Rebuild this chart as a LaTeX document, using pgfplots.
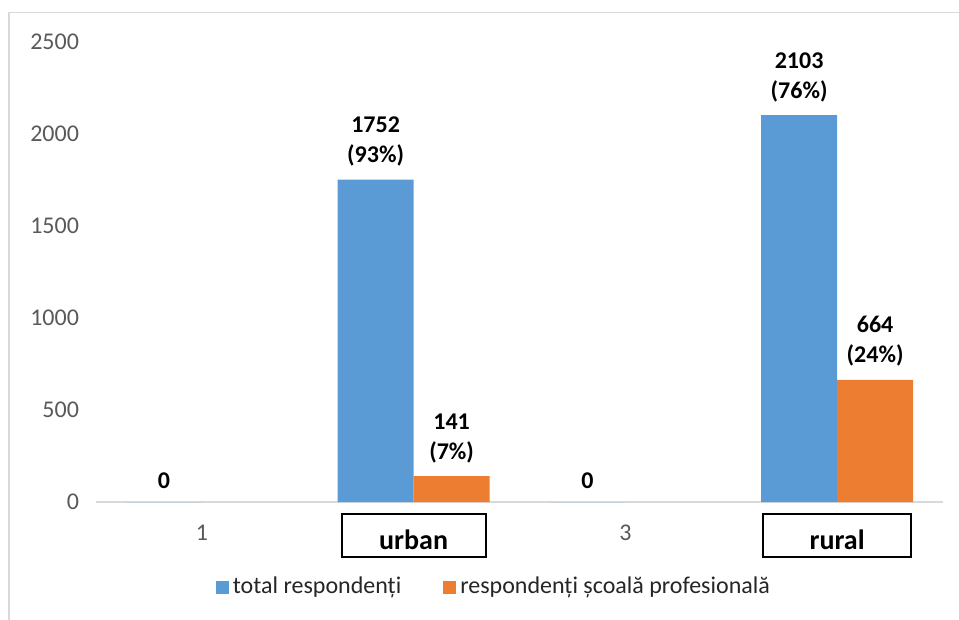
\documentclass[border=0pt]{standalone}
\usepackage{fontspec}
\setmainfont{Carlito}
\usepackage{pgfplots}
\pgfplotsset{compat=1.18}
\definecolor{obar}{HTML}{5B9BD5}
\definecolor{orbar}{HTML}{ED7D31}
\definecolor{txtgray}{HTML}{595959}
\definecolor{framegray}{HTML}{D9D9D9}

\begin{document}
\begin{tikzpicture}
\useasboundingbox (0pt,0pt) rectangle (479.5pt,-310pt);
% chart frame (only left and top edges visible in the crop)
\draw[framegray, line width=0.8pt] (4.5pt,-320pt) -- (4.5pt,-6.3pt) -- (490pt,-6.3pt);
\begin{axis}[
    at={(48pt,-251pt)}, anchor=south west,
    scale only axis,
    width=423.5pt, height=230pt,
    ybar=0pt,
    bar width=38pt,
    xmin=0.5, xmax=4.5,
    ymin=0, ymax=2500,
    xtick={1,2,3,4},
    xticklabels={1,,3,},
    ytick={0,500,1000,1500,2000,2500},
    major tick length=0pt,
    axis lines*=left,
    y axis line style={draw=none},
    x axis line style={draw=framegray, line width=0.8pt},
    /pgf/number format/assume math mode=true,
    /pgf/number format/1000 sep={},
    tick label style={font=\fontsize{12}{14}\selectfont, text=txtgray},
    xticklabel style={yshift=-8pt},
    yticklabel style={xshift=-5pt},
    clip=false,
    nodes near coords,
    point meta=explicit symbolic,
    nodes near coords style={font=\bfseries\fontsize{12}{15}\selectfont, align=center, text=black, inner sep=2pt, yshift=4.5pt},
    legend columns=2,
    legend style={draw=none, at={(0.471,-0.185)}, anchor=center,
        font=\fontsize{12}{14}\selectfont, text=black!85,
        /tikz/every even column/.append style={column sep=19pt}},
]
\addplot[fill=obar, draw=none,
    legend image code/.code={\fill[obar] (0pt,-3.3pt) rectangle (6.5pt,3.3pt);}]
    coordinates {
    (1,0) [0]
    (2,1752) [{1752\\(93\%)}]
    (3,0) [0]
    (4,2103) [{2103\\(76\%)}]
};
\addlegendentry{total respondenți}
\addplot[fill=orbar, draw=none,
    legend image code/.code={\fill[orbar] (0pt,-3.3pt) rectangle (6.5pt,3.3pt);}]
    coordinates {
    (2,141) [{141\\(7\%)}]
    (4,664) [{664\\(24\%)}]
};
\addlegendentry{respondenți școală profesională}
% boxed category labels
\node[draw=black, line width=1pt, minimum width=72pt, minimum height=21.5pt, anchor=north, inner sep=0pt]
    at ([yshift=-5.5pt]axis cs:2,0) {};
\node[draw=black, line width=1pt, minimum width=74pt, minimum height=21.5pt, anchor=north, inner sep=0pt]
    at ([yshift=-5.5pt]axis cs:4,0) {};
\node[anchor=base, font=\bfseries\fontsize{14}{16}\selectfont] at ([yshift=-23.5pt]axis cs:2,0) {urban};
\node[anchor=base, font=\bfseries\fontsize{14}{16}\selectfont] at ([yshift=-23.5pt]axis cs:4,0) {rural};
\end{axis}
\end{tikzpicture}
\end{document}
